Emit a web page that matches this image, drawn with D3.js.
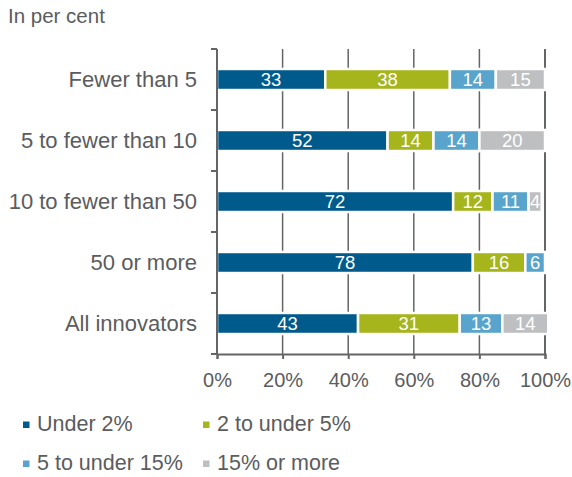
<!DOCTYPE html>
<html>
<head>
<meta charset="utf-8">
<script src="https://cdn.jsdelivr.net/npm/d3@7"></script>
<style>
  body { margin: 0; background: #fff; }
  svg { display: block; font-family: "Liberation Sans", Arial, sans-serif; }
</style>
</head>
<body>
<svg id="chart" width="572" height="477"></svg>
<script>
// Share of turnover from innovations, by firm size
const categories = ["Fewer than 5", "5 to fewer than 10", "10 to fewer than 50", "50 or more", "All innovators"];
const seriesNames = ["Under 2%", "2 to under 5%", "5 to under 15%", "15% or more"];
const under2 = [33, 52, 72, 78, 43];
const from2to5 = [38, 14, 12, 16, 31];
const from5to15 = [14, 14, 11, 6, 13];
const over15 = [15, 20, 4, 0, 14];
const tickValues = [0, 20, 40, 60, 80, 100];
const colors = ["#005b8c", "#a5b51b", "#58a4cc", "#bdbfc1"];

const seriesValues = [under2, from2to5, from5to15, over15];
const rows = categories.map((c, i) => {
  const r = { category: c };
  seriesNames.forEach((s, k) => { r[s] = seriesValues[k][i]; });
  return r;
});

const svg = d3.select("#chart");
const margin = { left: 217, right: 27, top: 49, bottom: 123 };
const W = 572, H = 477;
const x = d3.scaleLinear().domain([0, 100]).range([margin.left, W - margin.right]);
const y = d3.scaleBand().domain(categories).range([margin.top, H - margin.bottom]).paddingInner(0.655).paddingOuter(0.3275);
const yOuter = d3.scaleBand().domain(categories).range([margin.top, H - margin.bottom]);
const textColor = "#5a5c5e";
const axisColor = "#636567";

// Header
svg.append("text").attr("x", 8).attr("y", 23).attr("font-size", 20.5).attr("fill", textColor).text("In per cent");

// Vertical grid lines
svg.append("g").selectAll("line").data(tickValues.slice(1)).join("line")
  .attr("x1", d => x(d)).attr("x2", d => x(d))
  .attr("y1", margin.top).attr("y2", H - margin.bottom)
  .attr("stroke", axisColor).attr("stroke-width", d => d === 100 ? 2 : 1.5);

// Stacked bars
const stack = d3.stack().keys(seriesNames)(rows);
const layers = svg.append("g").selectAll("g").data(stack).join("g").attr("fill", (d, i) => colors[i]);
layers.selectAll("rect").data(d => d.filter(s => s[1] - s[0] > 0)).join("rect")
  .attr("x", d => x(d[0]))
  .attr("width", d => x(d[1]) - x(d[0]))
  .attr("y", d => y(d.data.category))
  .attr("height", y.bandwidth())
  .attr("stroke", "#fff").attr("stroke-width", 2.5);

// Value labels
layers.selectAll("text").data(d => d.filter(s => s[1] - s[0] > 0)).join("text")
  .attr("x", d => (x(d[0]) + x(d[1])) / 2)
  .attr("y", d => y(d.data.category) + y.bandwidth() / 2)
  .attr("dy", "0.34em")
  .attr("text-anchor", "middle")
  .attr("font-size", 18.5)
  .attr("fill", "#fff")
  .text(d => d[1] - d[0]);

// Left axis with boundary ticks
const yAxisG = svg.append("g");
yAxisG.append("line").attr("x1", x(0)).attr("x2", x(0))
  .attr("y1", margin.top).attr("y2", H - margin.bottom)
  .attr("stroke", axisColor).attr("stroke-width", 2);
const bounds = categories.map(c => yOuter(c)).concat([H - margin.bottom]);
yAxisG.selectAll("line.tick").data(bounds).join("line").attr("class", "tick")
  .attr("x1", x(0) - 6).attr("x2", x(0))
  .attr("y1", d => d).attr("y2", d => d)
  .attr("stroke", axisColor).attr("stroke-width", 2);

// Category labels
svg.append("g").selectAll("text").data(categories).join("text")
  .attr("x", 197)
  .attr("y", d => y(d) + y.bandwidth() / 2)
  .attr("dy", "0.33em")
  .attr("text-anchor", "end")
  .attr("font-size", 22)
  .attr("fill", textColor)
  .text(d => d);

// Bottom axis
const xAxis = d3.axisBottom(x).tickValues(tickValues).tickFormat(d => d + "%").tickSize(5).tickPadding(14);
const xg = svg.append("g").attr("transform", `translate(0,${H - margin.bottom})`).call(xAxis);
xg.select(".domain").attr("stroke", axisColor).attr("stroke-width", 2);
xg.selectAll(".tick line").attr("stroke", axisColor).attr("stroke-width", 2);
xg.selectAll(".tick text").attr("font-size", 20).attr("fill", textColor)
  .attr("font-family", "Liberation Sans, Arial, sans-serif");

// Legend
const legendPos = [[23, 431], [203, 431], [23, 470], [203, 470]];
const lg = svg.append("g").selectAll("g").data(seriesNames).join("g")
  .attr("transform", (d, i) => `translate(${legendPos[i][0]},${legendPos[i][1]})`);
lg.append("rect").attr("x", 0).attr("y", -9.5).attr("width", 6.5).attr("height", 6.5)
  .attr("fill", (d, i) => colors[i]);
lg.append("text").attr("x", 14).attr("y", 0).attr("font-size", 21.5).attr("fill", textColor).text(d => d);
</script>
</body>
</html>
